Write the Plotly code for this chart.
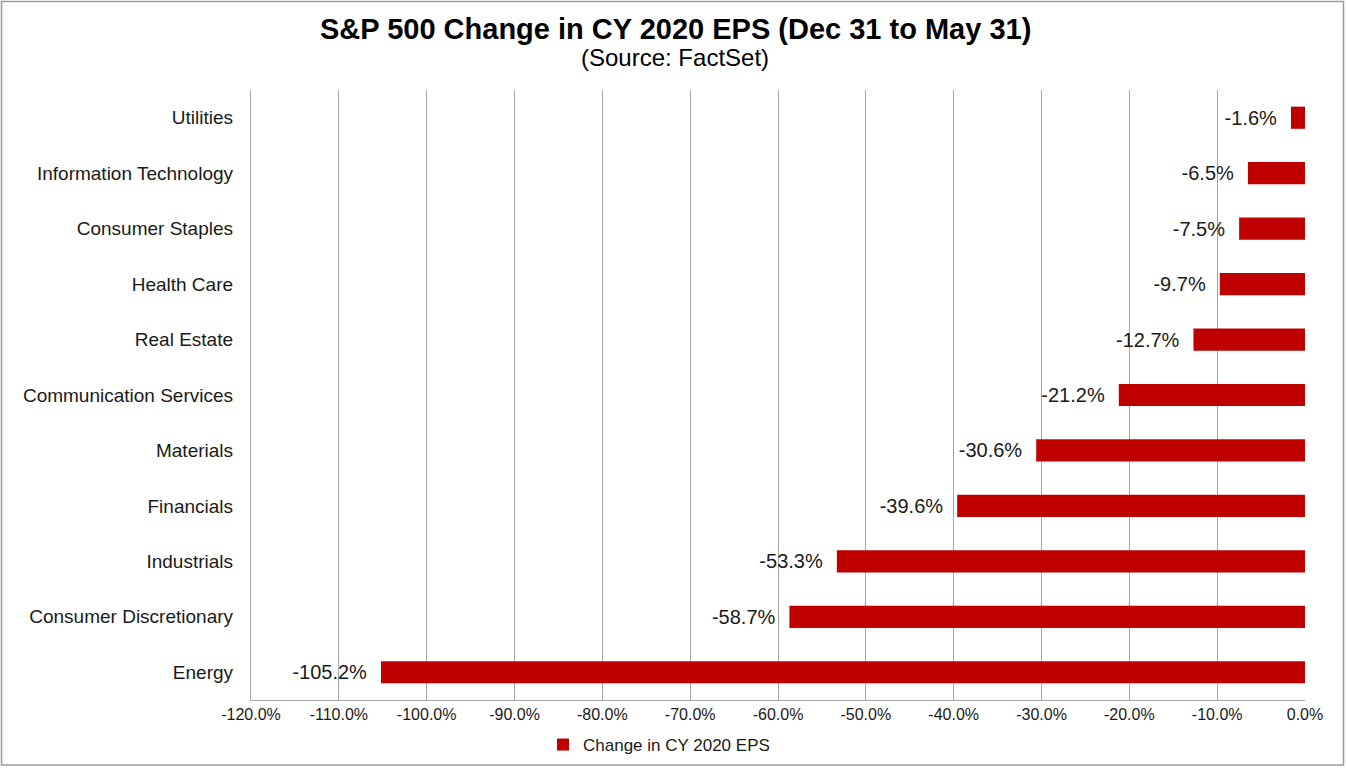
import plotly.graph_objects as go

categories = ["Utilities", "Information Technology", "Consumer Staples", "Health Care",
              "Real Estate", "Communication Services", "Materials", "Financials",
              "Industrials", "Consumer Discretionary", "Energy"]
values = [-1.6, -6.5, -7.5, -9.7, -12.7, -21.2, -30.6, -39.6, -53.3, -58.7, -105.2]
tick_vals = [-120, -110, -100, -90, -80, -70, -60, -50, -40, -30, -20, -10, 0]
tick_text = ["-120.0%", "-110.0%", "-100.0%", "-90.0%", "-80.0%", "-70.0%", "-60.0%",
             "-50.0%", "-40.0%", "-30.0%", "-20.0%", "-10.0%", "0.0%"]

W, H = 1346, 768
ML, MR, MT, MB = 251, 41, 90, 68
PW, PH = W - ML - MR, H - MT - MB

def px_x(p):
    return (p - ML) / PW

def px_y(p):
    return (H - MB - p) / PH

FONT = "Liberation Sans, Arial, sans-serif"

fig = go.Figure()
fig.add_trace(go.Bar(
    y=categories, x=values, orientation="h",
    marker=dict(color="#C00000", line=dict(width=0)),
    width=0.4,
    text=[f"{v:.1f}%\u00a0\u00a0" for v in values],
    textposition="outside",
    textfont=dict(family=FONT, size=20, color="#1a1a1a"),
    cliponaxis=False,
    name="Change in CY 2020 EPS",
    showlegend=True,
))

fig.update_layout(
    width=W, height=H,
    margin=dict(l=ML, r=MR, t=MT, b=MB, pad=0, autoexpand=False),
    paper_bgcolor="white", plot_bgcolor="white",
    font=dict(family=FONT, color="#1a1a1a"),
    showlegend=True,
    legend=dict(orientation="h", x=px_x(543), xanchor="left", y=px_y(745), yanchor="middle",
                font=dict(family=FONT, size=17, color="#1a1a1a"),
                itemwidth=30, bgcolor="rgba(0,0,0,0)"),
    xaxis=dict(range=[-120, 0], tickvals=tick_vals, ticktext=tick_text,
               showgrid=True, gridcolor="#a6a6a6", gridwidth=1.3,
               showline=True, linecolor="#a6a6a6", linewidth=1.3,
               ticks="outside", ticklen=0, tickfont=dict(family=FONT, size=16, color="#1a1a1a"),
               zeroline=False, fixedrange=True, automargin=False),
    yaxis=dict(categoryorder="array", categoryarray=categories, autorange="reversed",
               showgrid=False, showline=True, linecolor="#a6a6a6", linewidth=1.3,
               ticks="", ticklabelstandoff=13,
               tickfont=dict(family=FONT, size=19, color="#1a1a1a"),
               range=[-0.5, 10.5], fixedrange=True, automargin=False),
    bargap=0.6,
    annotations=[
        dict(text="<b>S&P 500 Change in CY 2020 EPS (Dec 31 to May 31)</b>", xref="paper", yref="paper",
             x=px_x(675), y=px_y(29), xanchor="center", yanchor="middle", showarrow=False,
             font=dict(family=FONT, size=29, color="#000000")),
        dict(text="(Source: FactSet)", xref="paper", yref="paper",
             x=px_x(675), y=px_y(58), xanchor="center", yanchor="middle", showarrow=False,
             font=dict(family=FONT, size=24, color="#000000")),
    ],
    shapes=[dict(type="rect", xref="paper", yref="paper",
                 x0=px_x(1.5), x1=px_x(1343.5), y0=px_y(765), y1=px_y(1.5),
                 line=dict(color="#9a9a9a", width=1.5), fillcolor="rgba(0,0,0,0)", layer="below")],
)

fig.write_html("out.html", config={"displayModeBar": False},
               post_script="document.body.style.margin='0';document.body.style.overflow='hidden';")
